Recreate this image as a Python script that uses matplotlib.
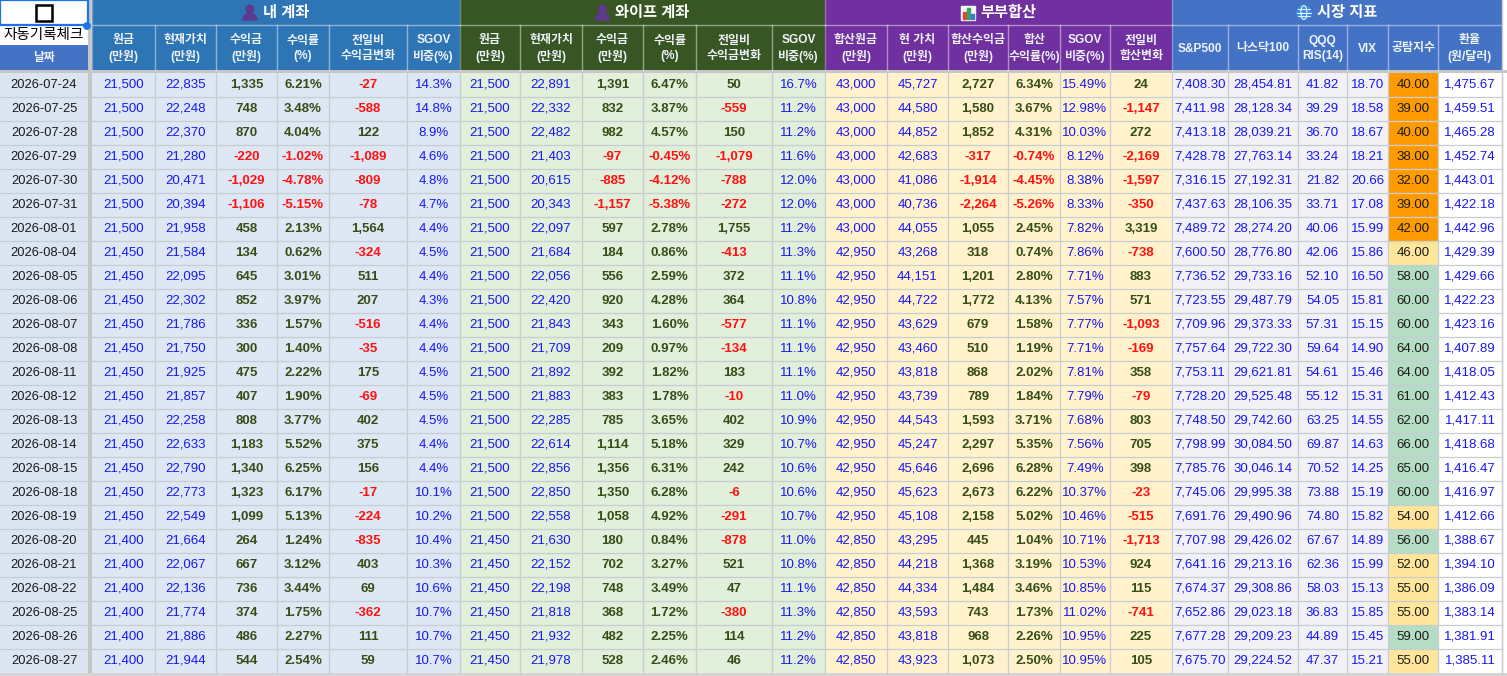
import matplotlib
matplotlib.use("Agg")
import matplotlib.pyplot as plt
from matplotlib import patches

plt.rcParams["font.family"] = ["Liberation Sans", "Noto Sans CJK KR"]

dates = ["2026-07-24", "2026-07-25", "2026-07-28", "2026-07-29", "2026-07-30",
         "2026-07-31", "2026-08-01", "2026-08-04", "2026-08-05", "2026-08-06",
         "2026-08-07", "2026-08-08", "2026-08-11", "2026-08-12", "2026-08-13",
         "2026-08-14", "2026-08-15", "2026-08-18", "2026-08-19", "2026-08-20",
         "2026-08-21", "2026-08-22", "2026-08-25", "2026-08-26", "2026-08-27"]

# 내 계좌
my_principal = [21500] * 7 + [21450] * 12 + [21400] * 6
my_value = [22835, 22248, 22370, 21280, 20471, 20394, 21958, 21584, 22095, 22302,
            21786, 21750, 21925, 21857, 22258, 22633, 22790, 22773, 22549, 21664,
            22067, 22136, 21774, 21886, 21944]
my_profit = [1335, 748, 870, -220, -1029, -1106, 458, 134, 645, 852, 336, 300, 475,
             407, 808, 1183, 1340, 1323, 1099, 264, 667, 736, 374, 486, 544]
my_rate = [6.21, 3.48, 4.04, -1.02, -4.78, -5.15, 2.13, 0.62, 3.01, 3.97, 1.57, 1.40,
           2.22, 1.90, 3.77, 5.52, 6.25, 6.17, 5.13, 1.24, 3.12, 3.44, 1.75, 2.27, 2.54]
my_change = [-27, -588, 122, -1089, -809, -78, 1564, -324, 511, 207, -516, -35, 175,
             -69, 402, 375, 156, -17, -224, -835, 403, 69, -362, 111, 59]
my_sgov = [14.3, 14.8, 8.9, 4.6, 4.8, 4.7, 4.4, 4.5, 4.4, 4.3, 4.4, 4.4, 4.5, 4.5,
           4.5, 4.4, 4.4, 10.1, 10.2, 10.4, 10.3, 10.6, 10.7, 10.7, 10.7]

# 와이프 계좌
wife_principal = [21500] * 19 + [21450] * 6
wife_value = [22891, 22332, 22482, 21403, 20615, 20343, 22097, 21684, 22056, 22420,
              21843, 21709, 21892, 21883, 22285, 22614, 22856, 22850, 22558, 21630,
              22152, 22198, 21818, 21932, 21978]
wife_profit = [1391, 832, 982, -97, -885, -1157, 597, 184, 556, 920, 343, 209, 392,
               383, 785, 1114, 1356, 1350, 1058, 180, 702, 748, 368, 482, 528]
wife_rate = [6.47, 3.87, 4.57, -0.45, -4.12, -5.38, 2.78, 0.86, 2.59, 4.28, 1.60, 0.97,
             1.82, 1.78, 3.65, 5.18, 6.31, 6.28, 4.92, 0.84, 3.27, 3.49, 1.72, 2.25, 2.46]
wife_change = [50, -559, 150, -1079, -788, -272, 1755, -413, 372, 364, -577, -134, 183,
               -10, 402, 329, 242, -6, -291, -878, 521, 47, -380, 114, 46]
wife_sgov = [16.7, 11.2, 11.2, 11.6, 12.0, 12.0, 11.2, 11.3, 11.1, 10.8, 11.1, 11.1,
             11.1, 11.0, 10.9, 10.7, 10.6, 10.6, 10.7, 11.0, 10.8, 11.1, 11.3, 11.2, 11.2]

# 부부합산
sum_principal = [43000] * 7 + [42950] * 12 + [42850] * 6
sum_value = [45727, 44580, 44852, 42683, 41086, 40736, 44055, 43268, 44151, 44722,
             43629, 43460, 43818, 43739, 44543, 45247, 45646, 45623, 45108, 43295,
             44218, 44334, 43593, 43818, 43923]
sum_profit = [2727, 1580, 1852, -317, -1914, -2264, 1055, 318, 1201, 1772, 679, 510,
              868, 789, 1593, 2297, 2696, 2673, 2158, 445, 1368, 1484, 743, 968, 1073]
sum_rate = [6.34, 3.67, 4.31, -0.74, -4.45, -5.26, 2.45, 0.74, 2.80, 4.13, 1.58, 1.19,
            2.02, 1.84, 3.71, 5.35, 6.28, 6.22, 5.02, 1.04, 3.19, 3.46, 1.73, 2.26, 2.50]
sum_sgov = [15.49, 12.98, 10.03, 8.12, 8.38, 8.33, 7.82, 7.86, 7.71, 7.57, 7.77, 7.71,
            7.81, 7.79, 7.68, 7.56, 7.49, 10.37, 10.46, 10.71, 10.53, 10.85, 11.02,
            10.95, 10.95]
sum_change = [24, -1147, 272, -2169, -1597, -350, 3319, -738, 883, 571, -1093, -169,
              358, -79, 803, 705, 398, -23, -515, -1713, 924, 115, -741, 225, 105]

# 시장 지표
sp500 = [7408.30, 7411.98, 7413.18, 7428.78, 7316.15, 7437.63, 7489.72, 7600.50,
         7736.52, 7723.55, 7709.96, 7757.64, 7753.11, 7728.20, 7748.50, 7798.99,
         7785.76, 7745.06, 7691.76, 7707.98, 7641.16, 7674.37, 7652.86, 7677.28, 7675.70]
nasdaq100 = [28454.81, 28128.34, 28039.21, 27763.14, 27192.31, 28106.35, 28274.20,
             28776.80, 29733.16, 29487.79, 29373.33, 29722.30, 29621.81, 29525.48,
             29742.60, 30084.50, 30046.14, 29995.38, 29490.96, 29426.02, 29213.16,
             29308.86, 29023.18, 29209.23, 29224.52]
qqq_rsi = [41.82, 39.29, 36.70, 33.24, 21.82, 33.71, 40.06, 42.06, 52.10, 54.05, 57.31,
           59.64, 54.61, 55.12, 63.25, 69.87, 70.52, 73.88, 74.80, 67.67, 62.36, 58.03,
           36.83, 44.89, 47.37]
vix = [18.70, 18.58, 18.67, 18.21, 20.66, 17.08, 15.99, 15.86, 16.50, 15.81, 15.15,
       14.90, 15.46, 15.31, 14.55, 14.63, 14.25, 15.19, 15.82, 14.89, 15.99, 15.13,
       15.85, 15.45, 15.21]
fear_greed = [40, 39, 40, 38, 32, 39, 42, 46, 58, 60, 60, 64, 64, 61, 62, 66, 65, 60,
              54, 56, 52, 55, 55, 59, 55]
usd_krw = [1475.67, 1459.51, 1465.28, 1452.74, 1443.01, 1422.18, 1442.96, 1429.39,
           1429.66, 1422.23, 1423.16, 1407.89, 1418.05, 1412.43, 1417.11, 1418.68,
           1416.47, 1416.97, 1412.66, 1388.67, 1394.10, 1386.09, 1383.14, 1381.91,
           1385.11]

# ---- layout (pixels) ----
W, H = 1507, 676
DATE_W = 88
GAP_R = 92
EDGES = [92, 155, 216, 277, 329, 407, 460,
         520, 582, 643, 696, 772, 825,
         887, 948, 1008, 1060, 1110, 1172,
         1228, 1298, 1347, 1388, 1438, 1502]
HDR1, HDR2 = 25, 70
ROW_TOP, ROW_H = 72.5, 24.0

BLUE = "#1717f5"
OLIVE = "#374d18"
RED = "#ff1111"


def f_int(v):
    return f"{v:,}"


def f_pct2(v):
    return f"{v:.2f}%"


def f_pct1(v):
    return f"{v:.1f}%"


def f_2(v):
    return f"{v:,.2f}"


groups = [
    ("내 계좌", "person", "#2e75b6", "#dde8f4", [
        ("원금\n(만원)", my_principal, f_int, "plain"),
        ("현재가치\n(만원)", my_value, f_int, "plain"),
        ("수익금\n(만원)", my_profit, f_int, "signed"),
        ("수익률\n(%)", my_rate, f_pct2, "signed"),
        ("전일비\n수익금변화", my_change, f_int, "signed"),
        ("SGOV\n비중(%)", my_sgov, f_pct1, "plain"),
    ]),
    ("와이프 계좌", "person", "#375623", "#e2efda", [
        ("원금\n(만원)", wife_principal, f_int, "plain"),
        ("현재가치\n(만원)", wife_value, f_int, "plain"),
        ("수익금\n(만원)", wife_profit, f_int, "signed"),
        ("수익률\n(%)", wife_rate, f_pct2, "signed"),
        ("전일비\n수익금변화", wife_change, f_int, "signed"),
        ("SGOV\n비중(%)", wife_sgov, f_pct1, "plain"),
    ]),
    ("부부합산", "chart", "#7030a0", "#fff2cc", [
        ("합산원금\n(만원)", sum_principal, f_int, "plain"),
        ("현 가치\n(만원)", sum_value, f_int, "plain"),
        ("합산수익금\n(만원)", sum_profit, f_int, "signed"),
        ("합산\n수익률(%)", sum_rate, f_pct2, "signed"),
        ("SGOV\n비중(%)", sum_sgov, f_pct2, "plain"),
        ("전일비\n합산변화", sum_change, f_int, "signed"),
    ]),
    ("시장 지표", "globe", "#4472c4", "#f1f1f6", [
        ("S&P500", sp500, f_2, "plain"),
        ("나스닥100", nasdaq100, f_2, "plain"),
        ("QQQ\nRIS(14)", qqq_rsi, f_2, "plain"),
        ("VIX", vix, f_2, "plain"),
        ("공탐지수", fear_greed, f_2, "fear"),
        ("환율\n(원/달러)", usd_krw, f_2, "white"),
    ]),
]


def fear_color(v):
    if v < 45:
        return "#ff9b00"
    if v <= 55:
        return "#ffe69a"
    return "#b5dcc5"


def draw_icon(ax, kind, cx, cy):
    if kind == "person":
        ax.add_patch(patches.Circle((cx, cy - 3.5), 3.8, color="#5e3a8c", zorder=5))
        ax.add_patch(patches.Wedge((cx, cy + 7.5), 7, 180, 360, color="#5e3a8c", zorder=5))
    elif kind == "chart":
        ax.add_patch(patches.Rectangle((cx - 7, cy - 7), 14, 14, color="#f4f4f4", zorder=5))
        for dx, h, c in [(-5, 7, "#e0463c"), (-1, 11, "#3aa55a"), (3, 5, "#3b78d8")]:
            ax.add_patch(patches.Rectangle((cx + dx, cy + 6 - h), 3, h, color=c, zorder=6))
    elif kind == "globe":
        ax.add_patch(patches.Circle((cx, cy), 7, color="#3e8ede", zorder=5))
        ax.add_patch(patches.Ellipse((cx, cy), 6, 14, fill=False, ec="white", lw=0.7, zorder=6))
        ax.plot([cx - 7, cx + 7], [cy, cy], color="white", lw=0.7, zorder=6)
        ax.plot([cx - 6, cx + 6], [cy - 3.5, cy - 3.5], color="white", lw=0.6, zorder=6)
        ax.plot([cx - 6, cx + 6], [cy + 3.5, cy + 3.5], color="white", lw=0.6, zorder=6)


def main() -> None:
    fig = plt.figure(figsize=(W / 100, H / 100), dpi=100)
    ax = fig.add_axes([0, 0, 1, 1])
    ax.set_xlim(0, W)
    ax.set_ylim(H, 0)
    ax.axis("off")
    renderer = fig.canvas.get_renderer()

    n = len(dates)
    bottom = ROW_TOP + n * ROW_H

    # date column
    ax.add_patch(patches.Rectangle((0, 0), DATE_W, HDR1, fc="white", ec="#1a73e8", lw=1.6, zorder=3))
    ax.add_patch(patches.Rectangle((DATE_W / 2 - 8, HDR1 / 2 - 8), 16, 16, fc="white", ec="black", lw=1.8, zorder=4))
    ax.add_patch(patches.Circle((DATE_W - 1, HDR1 + 1), 3.2, color="#1a73e8", zorder=5))
    ax.add_patch(patches.Rectangle((0, HDR1), DATE_W, 20, fc="white", ec="none"))
    ax.text(DATE_W / 2, HDR1 + 10, "자동기록체크", ha="center", va="center", fontsize=10.5, color="black")
    ax.add_patch(patches.Rectangle((0, 45), DATE_W, HDR2 - 45, fc="#4472c4", ec="none"))
    ax.text(DATE_W / 2, 57.5, "날짜", ha="center", va="center", fontsize=8.5, color="#eef3fa", fontweight="bold")
    ax.add_patch(patches.Rectangle((0, ROW_TOP), DATE_W, bottom - ROW_TOP, fc="#dbe5f1", ec="none"))
    for i, d in enumerate(dates):
        ax.text(DATE_W / 2, ROW_TOP + (i + 0.5) * ROW_H, d, ha="center", va="center",
                fontsize=9.3, color="#1a1a1a")

    # vertical gap and header/body separator
    ax.add_patch(patches.Rectangle((DATE_W, 0), GAP_R - DATE_W, H, fc="#c6c6c6", ec="none", zorder=2))
    ax.add_patch(patches.Rectangle((0, HDR2), W, ROW_TOP - HDR2, fc="#c6c6c6", ec="none", zorder=2))
    ax.add_patch(patches.Rectangle((0, bottom), W, H - bottom, fc="#d4d4d4", ec="none", zorder=2))

    col = 0
    for title, icon, hcolor, bcolor, cols in groups:
        x0, x1 = EDGES[col], EDGES[col + len(cols)]
        ax.add_patch(patches.Rectangle((x0, 0), x1 - x0, HDR2, fc=hcolor, ec="none"))
        ax.add_patch(patches.Rectangle((x0, ROW_TOP), x1 - x0, bottom - ROW_TOP, fc=bcolor, ec="none"))
        t = ax.text((x0 + x1) / 2 + 10, HDR1 / 2, title, ha="center", va="center",
                    fontsize=11, color="white", fontweight="bold")
        bb = t.get_window_extent(renderer=renderer).transformed(ax.transData.inverted())
        draw_icon(ax, icon, min(bb.x0, bb.x1) - 13, HDR1 / 2)
        ax.plot([x0, x1], [HDR1, HDR1], color="white", alpha=0.45, lw=1)
        ax.plot([x0, x0], [0, HDR2], color="white", alpha=0.3, lw=1)

        for j, (label, values, fmt, kind) in enumerate(cols):
            cx0, cx1 = EDGES[col + j], EDGES[col + j + 1]
            xm = (cx0 + cx1) / 2
            if j > 0:
                ax.plot([cx0, cx0], [HDR1, HDR2], color="white", alpha=0.45, lw=1)
            ax.text(xm, (HDR1 + HDR2) / 2 + 1, label, ha="center", va="center", fontsize=8.6,
                    color="#eef3fa", fontweight="bold", linespacing=1.35)
            if kind == "white":
                ax.add_patch(patches.Rectangle((cx0, ROW_TOP), cx1 - cx0, bottom - ROW_TOP,
                                               fc="white", ec="none"))
            for i, v in enumerate(values):
                y = ROW_TOP + (i + 0.5) * ROW_H
                weight, color = "normal", BLUE
                if kind == "signed":
                    weight = "bold"
                    color = RED if v < 0 else OLIVE
                elif kind == "fear":
                    ax.add_patch(patches.Rectangle((cx0, ROW_TOP + i * ROW_H), cx1 - cx0, ROW_H,
                                                   fc=fear_color(v), ec="none", zorder=1))
                    color = "#1a1a1a"
                ax.text(xm, y, fmt(v), ha="center", va="center", fontsize=9.5,
                        color=color, fontweight=weight, zorder=4)
        col += len(cols)

    # grid lines in body
    for e in EDGES[1:]:
        ax.plot([e, e], [ROW_TOP, bottom], color="#c8cdd4", lw=0.9, zorder=3)
    for i in range(1, len(dates)):
        y = ROW_TOP + i * ROW_H
        ax.plot([0, DATE_W], [y, y], color="#c8cdd4", lw=0.9, zorder=3)
        ax.plot([GAP_R, EDGES[-1]], [y, y], color="#c8cdd4", lw=0.9, zorder=3)
    ax.plot([EDGES[-1], EDGES[-1]], [0, H], color="#cccccc", lw=1, zorder=3)

    fig.savefig("out.png", dpi=100, facecolor="white")
    plt.close(fig)


if __name__ == "__main__":
    main()
